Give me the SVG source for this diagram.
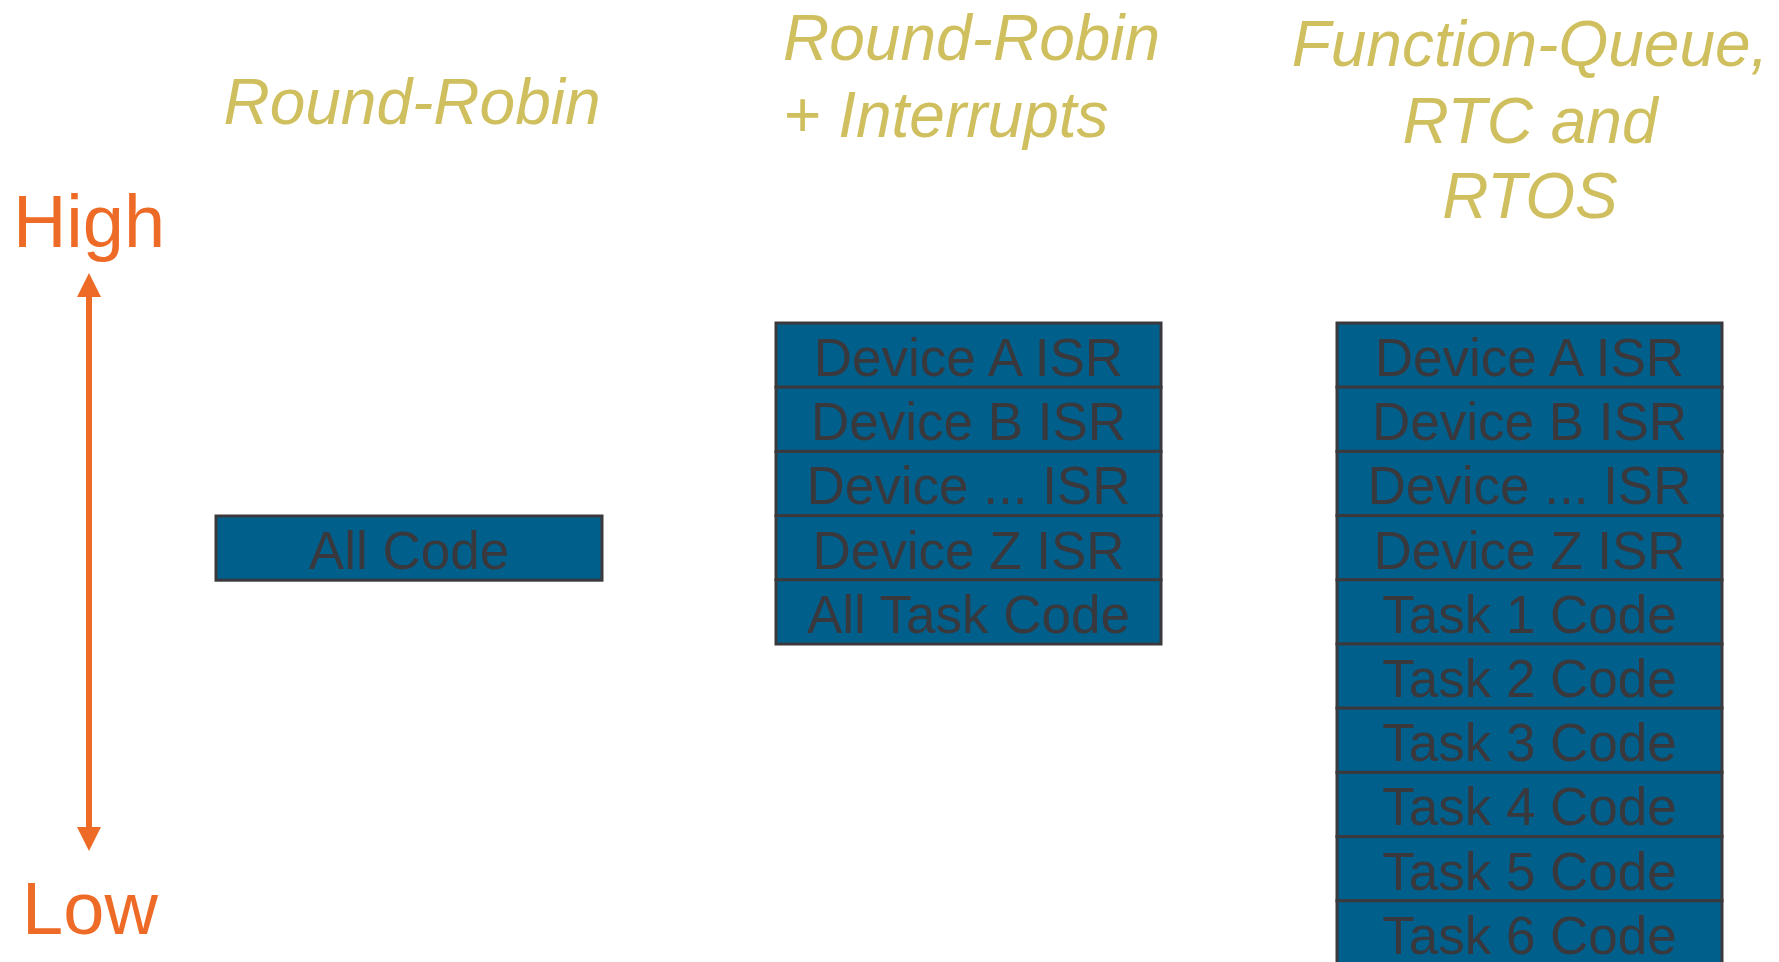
<svg xmlns="http://www.w3.org/2000/svg" width="1779" height="962" viewBox="0 0 1779 962">
<style>
.title{font-family:"Liberation Sans",Arial,sans-serif;font-style:italic;font-size:64px;fill:#cfbf5e}
.axis{font-family:"Liberation Sans",Arial,sans-serif;font-size:74px;fill:#ee6b27}
.cell rect{fill:#005f8b;stroke:#3a3a3e;stroke-width:3}
.cell text{font-family:"Liberation Sans",Arial,sans-serif;font-size:53px;fill:#38383d;text-anchor:middle}
</style>
<rect width="1779" height="962" fill="#ffffff"/>
<g id="titles">
<text class="title" x="412" y="124" text-anchor="middle">Round-Robin</text>
<text class="title" x="783" y="60">Round-Robin</text>
<text class="title" x="783" y="137">+ Interrupts</text>
<text class="title" x="1530" y="66" text-anchor="middle">Function-Queue,</text>
<text class="title" x="1530" y="143" text-anchor="middle">RTC and</text>
<text class="title" x="1530" y="218" text-anchor="middle">RTOS</text>
</g>
<g id="axis">
<text class="axis" x="89" y="247" text-anchor="middle">High</text>
<text class="axis" x="90" y="934" text-anchor="middle">Low</text>
</g>
<g id="connectors">
<line x1="89" y1="292" x2="89" y2="832" stroke="#ee6b27" stroke-width="6"/>
<polygon points="89,273 101,297 77,297" fill="#ee6b27"/>
<polygon points="89,851 101,827 77,827" fill="#ee6b27"/>
</g>
<g id="col1" class="cell">
<rect x="216" y="516" width="386" height="64.2"/>
<text x="409" y="569">All Code</text>
</g>
<g id="col2" class="cell">
<rect x="776" y="323" width="385" height="64.2"/>
<text x="968.5" y="376">Device A ISR</text>
<rect x="776" y="387.2" width="385" height="64.2"/>
<text x="968.5" y="440.2">Device B ISR</text>
<rect x="776" y="451.4" width="385" height="64.2"/>
<text x="968.5" y="504.4">Device ... ISR</text>
<rect x="776" y="515.6" width="385" height="64.2"/>
<text x="968.5" y="568.6">Device Z ISR</text>
<rect x="776" y="579.8" width="385" height="64.2"/>
<text x="968.5" y="632.8">All Task Code</text>
</g>
<g id="col3" class="cell">
<rect x="1337" y="323" width="385" height="64.2"/>
<text x="1529.5" y="376">Device A ISR</text>
<rect x="1337" y="387.2" width="385" height="64.2"/>
<text x="1529.5" y="440.2">Device B ISR</text>
<rect x="1337" y="451.4" width="385" height="64.2"/>
<text x="1529.5" y="504.4">Device ... ISR</text>
<rect x="1337" y="515.6" width="385" height="64.2"/>
<text x="1529.5" y="568.6">Device Z ISR</text>
<rect x="1337" y="579.8" width="385" height="64.2"/>
<text x="1529.5" y="632.8">Task 1 Code</text>
<rect x="1337" y="644" width="385" height="64.2"/>
<text x="1529.5" y="697">Task 2 Code</text>
<rect x="1337" y="708.2" width="385" height="64.2"/>
<text x="1529.5" y="761.2">Task 3 Code</text>
<rect x="1337" y="772.4" width="385" height="64.2"/>
<text x="1529.5" y="825.4">Task 4 Code</text>
<rect x="1337" y="836.6" width="385" height="64.2"/>
<text x="1529.5" y="889.6">Task 5 Code</text>
<rect x="1337" y="900.8" width="385" height="64.2"/>
<text x="1529.5" y="953.8">Task 6 Code</text>
</g>
</svg>
